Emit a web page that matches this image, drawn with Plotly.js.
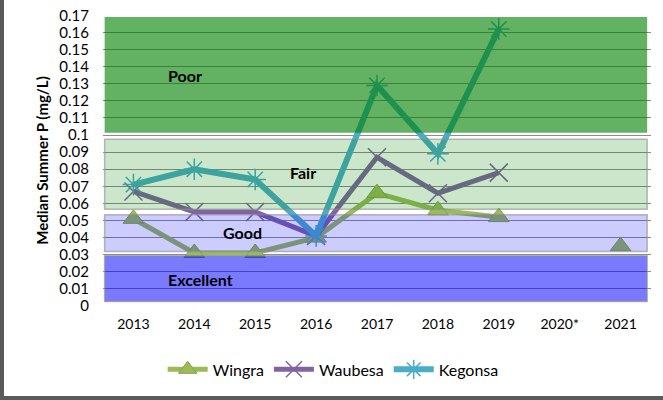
<!DOCTYPE html>
<html>
<head>
<meta charset="utf-8">
<script src="https://cdn.plot.ly/plotly-3.0.1.min.js"></script>
<style>
  html, body { margin: 0; padding: 0; background: #fff; }
  #chart { width: 663px; height: 400px; }
  #frameL { position: absolute; left: 0; top: 0; width: 4px; height: 400px; background: #5a5a5a; }
  #frameB { position: absolute; left: 0; top: 396px; width: 663px; height: 4px; background: #5a5a5a; }
</style>
</head>
<body>
<div id="chart"></div>
<div id="frameL"></div>
<div id="frameB"></div>
<script>
// ---- data ----
const years   = ['2013', '2014', '2015', '2016', '2017', '2018', '2019', '2020*', '2021'];
const wingra  = [0.051, 0.031, 0.031, 0.040, 0.066, 0.056, 0.052, null, 0.035];
const waubesa = [0.067, 0.055, 0.055, 0.041, 0.087, 0.066, 0.078, null, null];
const kegonsa = [0.071, 0.080, 0.074, 0.041, 0.129, 0.089, 0.162, null, null];

// quality bands (value ranges) and labels
const bandNames = ['Poor', 'Fair', 'Good', 'Excellent'];
const bandLow   = [0.1013, 0.0566, 0.0319, 0.0027];
const bandHigh  = [0.1690, 0.0976, 0.0533, 0.0294];
const bandFill  = ['rgba(0,128,0,0.61)', 'rgba(0,128,0,0.20)', 'rgba(0,0,255,0.20)', 'rgba(0,0,255,0.52)'];
const bandLine  = ['rgba(0,0,0,0)', 'rgba(140,140,140,0.6)', 'rgba(140,140,140,0.6)', 'rgba(140,140,140,0.6)'];
const labelX    = [0.85, 2.79, 1.79, 1.10];
const labelY    = [0.135, 0.0778, 0.0428, 0.0154];

const font = 'Lato, "Open Sans", sans-serif';

const data = [
  { type: 'scatter', mode: 'lines+markers', name: 'Wingra', x: years, y: wingra, connectgaps: false,
    line: { color: '#9bbb59', width: 5 },
    marker: { symbol: 'triangle-up', size: 18, color: '#9bbb59', line: { color: '#86a34a', width: 1 } } },
  { type: 'scatter', mode: 'lines+markers', name: 'Waubesa', x: years, y: waubesa, connectgaps: false,
    line: { color: '#8064a2', width: 5 },
    marker: { symbol: 'x-thin-open', size: 18, color: '#8064a2', line: { color: '#8064a2', width: 1.5 } } },
  { type: 'scatter', mode: 'lines+markers', name: 'Kegonsa', x: years, y: kegonsa, connectgaps: false,
    line: { color: '#4bacc6', width: 6 },
    marker: { symbol: 'asterisk-open', size: 18, color: '#4bacc6', line: { color: '#4bacc6', width: 1.5 } } }
];

const shapes = bandNames.map((n, i) => ({
  type: 'rect', layer: 'above', xref: 'paper', yref: 'y',
  x0: 0.003, x1: 0.993, y0: bandLow[i], y1: bandHigh[i],
  fillcolor: bandFill[i], line: { color: bandLine[i], width: 1.5 }
}));

const annotations = bandNames.map((n, i) => ({
  text: '<b>' + n + '</b>', xref: 'x', yref: 'y',
  x: labelX[i], y: labelY[i], showarrow: false,
  font: { family: font, size: 16, color: '#000' }
}));

const layout = {
  width: 663, height: 400,
  margin: { l: 103, r: 12, t: 15, b: 93.5 },
  paper_bgcolor: '#fff', plot_bgcolor: '#fff',
  font: { family: font, size: 15, color: '#000' },
  showlegend: true,
  legend: {
    orientation: 'h', x: 0.42, xanchor: 'center', y: -0.218, yanchor: 'middle',
    font: { family: font, size: 16, color: '#000' }, itemwidth: 40
  },
  xaxis: {
    type: 'category', range: [-0.5, 8.5], showgrid: false, zeroline: false,
    showline: false, ticks: '', ticklabelstandoff: 8,
    tickfont: { family: font, size: 14, color: '#000' }
  },
  yaxis: {
    range: [0, 0.1702], dtick: 0.01, tick0: 0, showgrid: true, gridcolor: '#8c8c8c', gridwidth: 1,
    zeroline: false, showline: false, ticks: '', ticklabelstandoff: 13,
    tickfont: { family: font, size: 15, color: '#000' },
    title: { text: '<b>Median Summer P (mg/L)</b>', standoff: 7, font: { family: font, size: 15, color: '#000' } }
  },
  shapes: shapes,
  annotations: annotations
};

Plotly.newPlot('chart', data, layout, { displayModeBar: false, staticPlot: true });
</script>
</body>
</html>
